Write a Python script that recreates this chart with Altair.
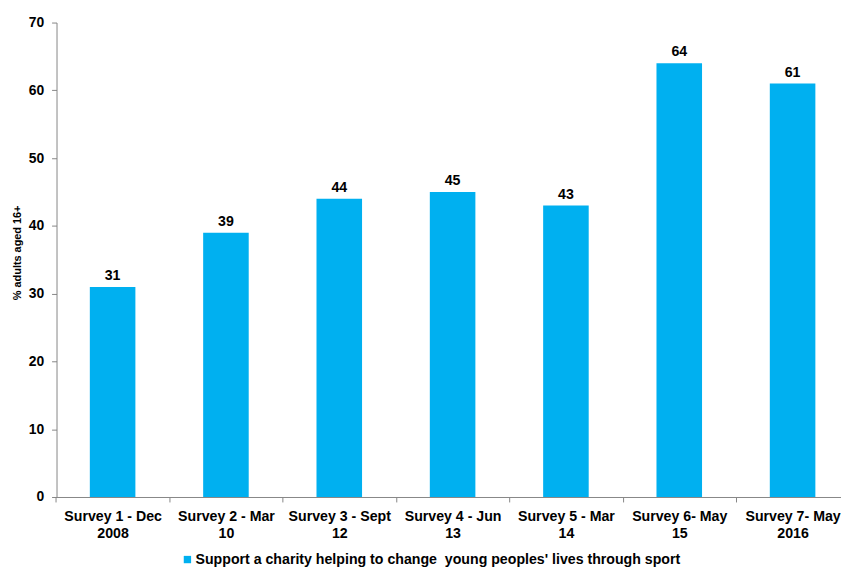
import altair as alt
import pandas as pd

categories = [
    "Survey 1 - Dec|2008",
    "Survey 2 - Mar|10",
    "Survey 3 - Sept|12",
    "Survey 4 - Jun|13",
    "Survey 5 - Mar|14",
    "Survey 6- May|15",
    "Survey 7- May|2016",
]
values = [31, 39, 44, 45, 43, 64, 61]
series_name = "Support a charity helping to change\u00a0 young peoples' lives through sport"

df = pd.DataFrame({"survey": categories, "value": values, "series": [series_name] * len(values)})

FONT = "Liberation Sans"
BLUE = "#00B0F0"
AXIS_GREY = "#868686"
STEP = 114.4

x = alt.X(
    "survey:N",
    sort=categories,
    title=None,
    scale=alt.Scale(paddingInner=0.598, paddingOuter=0.26, align=0.565),
    axis=alt.Axis(
        labelExpr="split(datum.label, '|')",
        labelAngle=0,
        labelFont=FONT,
        labelFontSize=14.3,
        labelFontWeight="bold",
        labelColor="#000000",
        labelLineHeight=16.5,
        labelPadding=8,
        tickOffset=-STEP / 2,
        labelOffset=STEP / 2,
        tickSize=5,
        tickColor=AXIS_GREY,
        domainColor=AXIS_GREY,
        grid=False,
    ),
)

y = alt.Y(
    "value:Q",
    scale=alt.Scale(domain=[0, 70]),
    title="% adults aged 16+",
    axis=alt.Axis(
        values=[0, 10, 20, 30, 40, 50, 60, 70],
        labelFont=FONT,
        labelFontSize=14,
        labelFontWeight="bold",
        labelColor="#000000",
        labelPadding=8,
        tickSize=5,
        tickColor=AXIS_GREY,
        domainColor=AXIS_GREY,
        grid=False,
        titleFont=FONT,
        titleFontSize=11,
        titleFontWeight="bold",
        titleColor="#000000",
        titlePadding=6,
        titleY=232,
    ),
)

bars = alt.Chart(df).mark_bar(color=BLUE).encode(
    x=x,
    y=y,
    color=alt.Color(
        "series:N",
        scale=alt.Scale(range=[BLUE]),
        legend=alt.Legend(
            title=None,
            orient="none",
            legendX=125,
            legendY=535,
            symbolType="square",
            symbolSize=55,
            symbolStrokeWidth=0,
            labelFont=FONT,
            labelFontSize=14.3,
            labelFontWeight="bold",
            labelColor="#000000",
            labelOffset=1,
            labelLimit=600,
            padding=0,
        ),
    ),
)

text = alt.Chart(df).mark_text(
    font=FONT, fontSize=14.3, fontWeight="bold", color="#000000", dy=-7, baseline="alphabetic"
).encode(x=alt.X("survey:N", sort=categories), y="value:Q", text="value:Q")

chart = (
    alt.layer(bars, text)
    .properties(
        width=792,
        height=479,
        autosize=alt.AutoSizeParams(type="none"),
        padding={"left": 49, "top": 12, "right": 0, "bottom": 70},
    )
    .configure(background="#ffffff")
    .configure_view(stroke=None)
)

chart.save("out.html", embed_options={"renderer": "svg", "actions": False})
